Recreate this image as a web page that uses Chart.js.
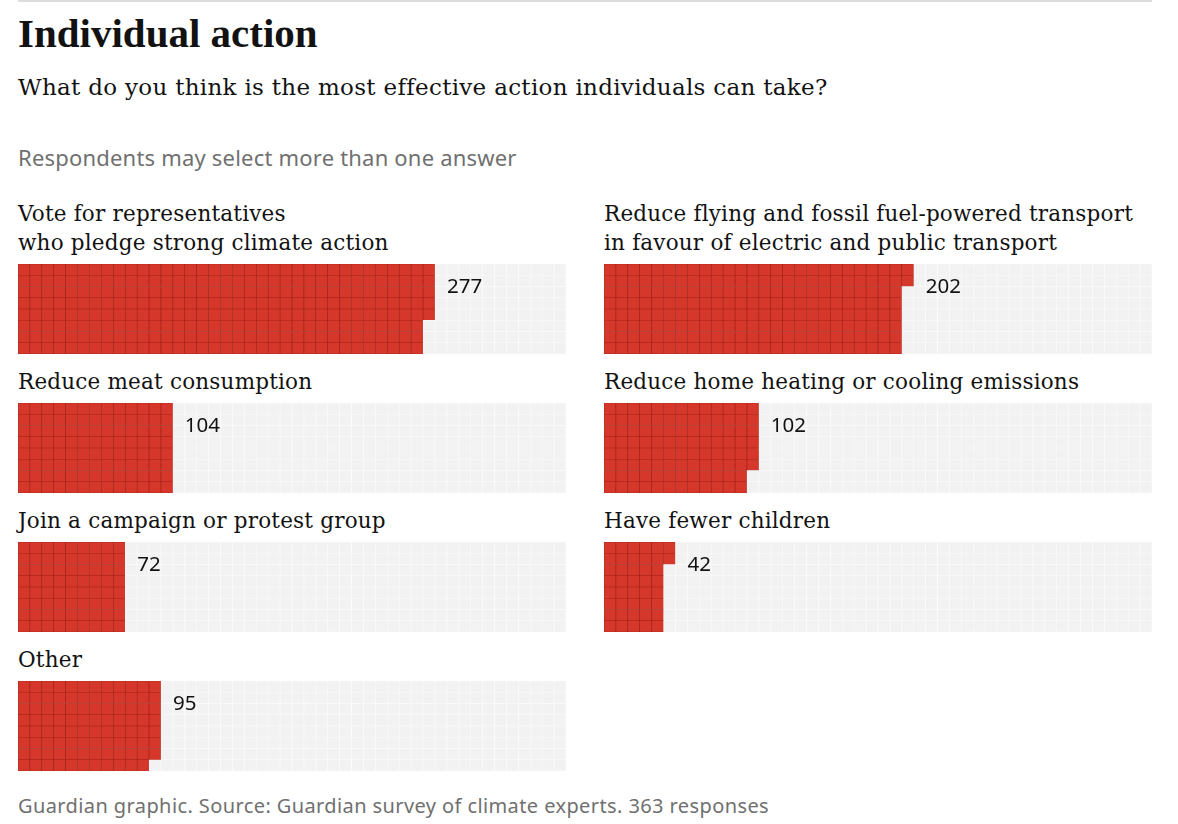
<!DOCTYPE html>
<html>
<head>
<meta charset="utf-8">
<script src="https://cdn.jsdelivr.net/npm/chart.js@4"></script>
<style>
body{margin:0;background:#fff;width:1178px;height:824px;position:relative;overflow:hidden}
.rule{position:absolute;left:18px;top:0;width:1134px;height:2px;background:#dcdcdc}
.title{position:absolute;left:18px;top:11px;font-family:"Liberation Serif",serif;font-weight:bold;font-size:41px;line-height:44px;color:#121212;letter-spacing:0px}
.sub{position:absolute;left:18px;top:72px;font-family:"DejaVu Serif",serif;font-size:23px;line-height:30px;letter-spacing:0.3px;color:#121212}
.note{position:absolute;left:18px;top:142px;font-family:"Noto Sans",sans-serif;font-size:22px;line-height:30px;letter-spacing:0.2px;color:#707070}
.foot{position:absolute;left:18px;top:793px;font-family:"Noto Sans",sans-serif;font-size:20px;line-height:26px;letter-spacing:0.4px;color:#707070}
.lab{position:absolute;font-family:"DejaVu Serif",serif;font-size:21.5px;line-height:29px;letter-spacing:0.2px;color:#121212;white-space:nowrap}
.panel{position:absolute;width:548px;height:90px}
</style>
</head>
<body>
<div class="rule"></div>
<div class="title">Individual action</div>
<div class="sub">What do you think is the most effective action individuals can take?</div>
<div class="note">Respondents may select more than one answer</div>
<div id="panels"></div>
<div class="foot">Guardian graphic. Source: Guardian survey of climate experts. 363 responses</div>
<script>
// data
var answers = [
	'Vote for representatives\nwho pledge strong climate action',
	'Reduce flying and fossil fuel-powered transport\nin favour of electric and public transport',
	'Reduce meat consumption',
	'Reduce home heating or cooling emissions',
	'Join a campaign or protest group',
	'Have fewer children',
	'Other'
]
var counts = [277, 202, 104, 102, 72, 42, 95]
var totalResponses = 363
var gridRows = 8

var red = '#d5372a'
var redLine = '#a3241a'
var grey = '#f2f2f2'
var greyLine = '#fafafa'

var gridCols = Math.ceil(totalResponses / gridRows)
var panelLeft = [18, 604]
var panelTop = [264, 403, 542, 681]

var panelsDiv = document.getElementById('panels')

var valueLabel = {
	id:'valueLabel',
	afterDatasetsDraw:function(chart, args, opts){
		var xs = chart.scales.x
		var ys = chart.scales.y
		var cols = Math.ceil(opts.value / gridRows)
		var colW = xs.getPixelForValue(1) - xs.getPixelForValue(0)
		var ctx = chart.ctx
		ctx.save()
		ctx.font = '20.5px "Noto Sans", sans-serif'
		ctx.fillStyle = '#121212'
		ctx.textBaseline = 'middle'
		ctx.fillText(String(opts.value), xs.getPixelForValue(cols - 1) + colW / 2 + 12, ys.getPixelForValue(gridRows) + 23)
		ctx.restore()
	}
}

function buildPanel(i){
	var left = panelLeft[i % 2]
	var top = panelTop[Math.floor(i / 2)]
	var lines = answers[i].split('\n')

	var lab = document.createElement('div')
	lab.className = 'lab'
	lab.style.left = left + 'px'
	lab.style.top = (top - 7 - 29 * lines.length) + 'px'
	lab.innerHTML = lines.join('<br>')
	panelsDiv.appendChild(lab)

	var box = document.createElement('div')
	box.className = 'panel'
	box.style.left = left + 'px'
	box.style.top = top + 'px'
	var cv = document.createElement('canvas')
	box.appendChild(cv)
	panelsDiv.appendChild(box)

	var value = counts[i]
	var cols = []
	for(var c = 0; c < gridCols; c++) cols.push(c)

	// one stacked dataset per grid row, bottom row first
	var datasets = []
	for(var d = 0; d < gridRows; d++){
		datasets.push({
			data:cols.map(function(){ return 1 }),
			backgroundColor:function(ctx){
				var r = gridRows - 1 - ctx.datasetIndex
				return ctx.dataIndex * gridRows + r < value ? red : grey
			},
			borderColor:function(ctx){
				var r = gridRows - 1 - ctx.datasetIndex
				return ctx.dataIndex * gridRows + r < value ? redLine : greyLine
			},
			borderWidth:0.7,
			borderSkipped:false,
			categoryPercentage:1,
			barPercentage:1
		})
	}

	new Chart(cv, {
		type:'bar',
		data:{labels:cols, datasets:datasets},
		options:{
			responsive:true,
			maintainAspectRatio:false,
			animation:false,
			events:[],
			layout:{padding:0},
			scales:{
				x:{display:false, stacked:true},
				y:{display:false, stacked:true, min:0, max:gridRows}
			},
			plugins:{
				legend:{display:false},
				tooltip:{enabled:false},
				valueLabel:{value:value}
			}
		},
		plugins:[valueLabel]
	})
}

for(var i = 0; i < answers.length; i++){
	buildPanel(i)
}
</script>
</body>
</html>
